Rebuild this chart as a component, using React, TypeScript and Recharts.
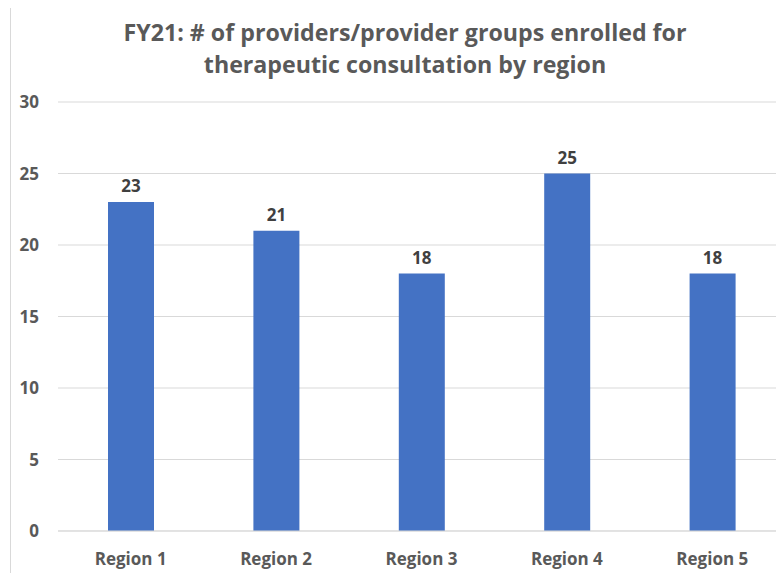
import React from "react";
import { BarChart, Bar, XAxis, YAxis, CartesianGrid, LabelList } from "recharts";

const categories = ["Region 1", "Region 2", "Region 3", "Region 4", "Region 5"];
const enrolled = [23, 21, 18, 25, 18];
const yTicks = [0, 5, 10, 15, 20, 25, 30];
const titleLines = ["FY21: # of providers/provider groups enrolled for", "therapeutic consultation by region"];

const data = categories.map((c, i) => ({ region: c, value: enrolled[i] }));

const FONT = "'Open Sans', sans-serif";
const TEXT = "#595959";

export default function App() {
  return (
    <div style={{ position: "relative", width: 784, height: 573, margin: "-8px 0 0 -8px", overflow: "hidden", background: "#fff" }}>
      <div style={{ position: "absolute", left: 10, top: 6, width: 800, height: 600, border: "1px solid #d9d9d9", boxSizing: "border-box" }} />
      <div style={{ position: "absolute", left: 0, top: 16, width: 810, textAlign: "center", fontFamily: FONT, fontWeight: 700, fontSize: 23.2, lineHeight: "32px", color: TEXT }}>
        {titleLines.map((l) => (
          <div key={l}>{l}</div>
        ))}
      </div>
      <div style={{ position: "absolute", left: 0, top: 0 }}>
        <BarChart width={790} height={573} data={data} margin={{ top: 102, right: 5, bottom: 12, left: 0 }} barCategoryGap="34%">
          <CartesianGrid vertical={false} stroke="#d9d9d9" strokeWidth={1} />
          <XAxis
            dataKey="region"
            axisLine={{ stroke: "#d9d9d9" }}
            tickLine={false}
            tickSize={0}
            tickMargin={22}
            height={30}
            tick={{ fill: TEXT, fontFamily: FONT, fontWeight: 700, fontSize: 17 }}
          />
          <YAxis
            domain={[0, 30]}
            ticks={yTicks}
            width={58}
            axisLine={false}
            tickLine={false}
            tickSize={0}
            tickMargin={19}
            tick={{ fill: TEXT, fontFamily: FONT, fontWeight: 700, fontSize: 17 }}
          />
          <Bar dataKey="value" fill="#4472C4" barSize={46} isAnimationActive={false}>
            <LabelList dataKey="value" position="top" offset={10} fill="#404040" fontFamily={FONT} fontWeight={700} fontSize={17} />
          </Bar>
        </BarChart>
      </div>
    </div>
  );
}
